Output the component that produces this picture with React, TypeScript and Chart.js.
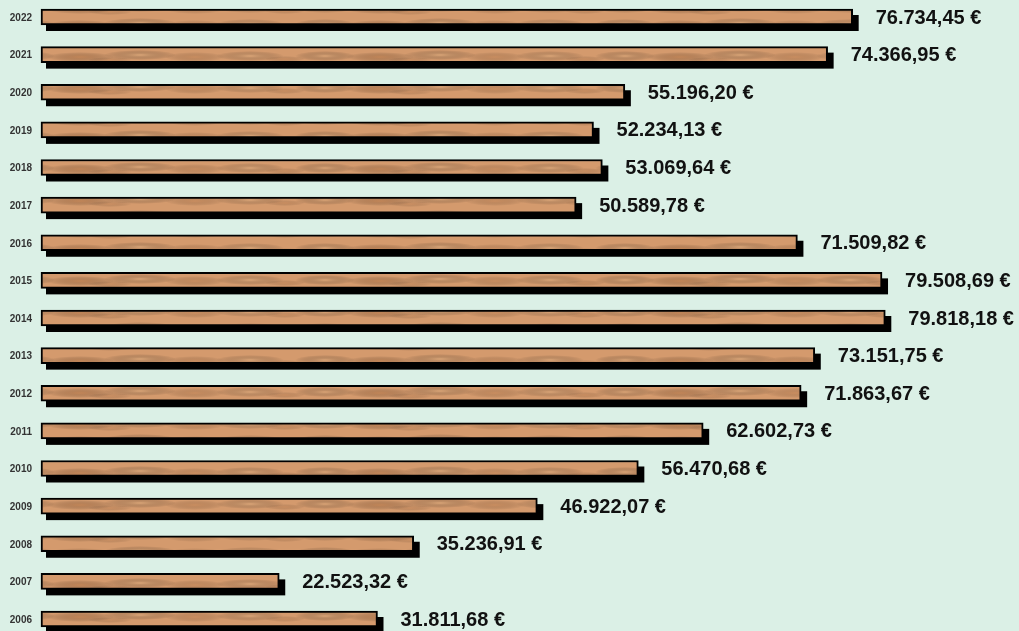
import React, { useEffect, useRef } from "react";
import { Chart, registerables } from "chart.js";

Chart.register(...registerables);

const years = ["2022", "2021", "2020", "2019", "2018", "2017", "2016", "2015", "2014", "2013", "2012", "2011", "2010", "2009", "2008", "2007", "2006"];
const amounts = [76734.45, 74366.95, 55196.2, 52234.13, 53069.64, 50589.78, 71509.82, 79508.69, 79818.18, 73151.75, 71863.67, 62602.73, 56470.68, 46922.07, 35236.91, 22523.32, 31811.68];

function fmtEuro(v: number): string {
  const [i, d] = v.toFixed(2).split(".");
  return i.replace(/\B(?=(\d{3})+(?!\d))/g, ".") + "," + d + " €";
}

function makeWood(): CanvasPattern | string {
  const c = document.createElement("canvas");
  c.width = 300;
  c.height = 16;
  const g = c.getContext("2d");
  if (!g) return "#d49a6d";
  g.fillStyle = "#d49a6d";
  g.fillRect(0, 0, 300, 16);
  const spots: [number, number, number, number, string][] = [
    [25, 8, 30, 5, "rgba(228,176,128,0.55)"],
    [80, 9, 34, 5, "rgba(175,110,62,0.45)"],
    [140, 7, 36, 5, "rgba(228,178,130,0.55)"],
    [195, 9, 30, 5, "rgba(185,120,72,0.35)"],
    [250, 8, 34, 5, "rgba(230,180,132,0.5)"],
    [110, 12, 22, 3, "rgba(190,125,78,0.3)"],
    [285, 11, 20, 3, "rgba(185,118,70,0.3)"],
  ];
  for (const [x, y, rx, ry, col] of spots) {
    for (const dx of [-300, 0, 300]) {
      g.save();
      g.translate(x + dx, y);
      g.scale(1, ry / rx);
      const grd = g.createRadialGradient(0, 0, 0, 0, 0, rx);
      grd.addColorStop(0, col);
      grd.addColorStop(1, "rgba(0,0,0,0)");
      g.fillStyle = grd;
      g.beginPath();
      g.arc(0, 0, rx, 0, Math.PI * 2);
      g.fill();
      g.restore();
    }
  }
  return g.createPattern(c, "repeat") || "#d49a6d";
}

const decoPlugin = {
  id: "deco",
  beforeDatasetsDraw(chart: any) {
    const ctx = chart.ctx;
    const meta = chart.getDatasetMeta(0);
    ctx.save();
    ctx.fillStyle = "#000000";
    meta.data.forEach((el: any) => {
      const left = Math.min(el.base, el.x);
      const right = Math.max(el.base, el.x);
      const top = el.y - el.height / 2;
      ctx.fillRect(left + 5, top + 6, right - left + 1, el.height);
    });
    ctx.restore();
  },
  afterDatasetsDraw(chart: any) {
    const ctx = chart.ctx;
    const meta = chart.getDatasetMeta(0);
    ctx.save();
    meta.data.forEach((el: any, i: number) => {
      ctx.fillStyle = "#333333";
      ctx.font = "bold 10px 'Liberation Sans', Arial, sans-serif";
      ctx.textAlign = "right";
      ctx.textBaseline = "middle";
      ctx.fillText(years[i], 32, el.y + 1);
      ctx.fillStyle = "#111111";
      ctx.font = "bold 20px 'Liberation Sans', Arial, sans-serif";
      ctx.textAlign = "left";
      ctx.fillText(fmtEuro(amounts[i]), Math.max(el.x, el.base) + 23, el.y + 1);
    });
    ctx.restore();
  },
};

export default function App() {
  const ref = useRef<HTMLCanvasElement>(null);
  useEffect(() => {
    if (!ref.current) return;
    const chart = new Chart(ref.current, {
      type: "bar",
      data: {
        labels: years,
        datasets: [
          {
            data: amounts,
            backgroundColor: makeWood() as any,
            borderColor: "#000000",
            borderWidth: 2,
            borderSkipped: false,
            barThickness: 16,
            clip: false as any,
          },
        ],
      },
      options: {
        indexAxis: "y",
        responsive: false,
        animation: false,
        devicePixelRatio: 1,
        layout: { padding: { left: 41, right: 26, top: 17, bottom: 12 } },
        plugins: { legend: { display: false }, tooltip: { enabled: false } },
        scales: {
          x: { type: "linear", display: false, min: 0, max: 90000, grid: { display: false } },
          y: { type: "category", display: false, offset: false, grid: { display: false } },
        },
      },
      plugins: [decoPlugin],
    });
    return () => chart.destroy();
  }, []);
  return (
    <div style={{ position: "absolute", left: 0, top: 0, width: 1019, height: 631, background: "#dbf0e6" }}>
      <canvas ref={ref} width={1019} height={631} style={{ display: "block", width: 1019, height: 631 }} />
    </div>
  );
}
